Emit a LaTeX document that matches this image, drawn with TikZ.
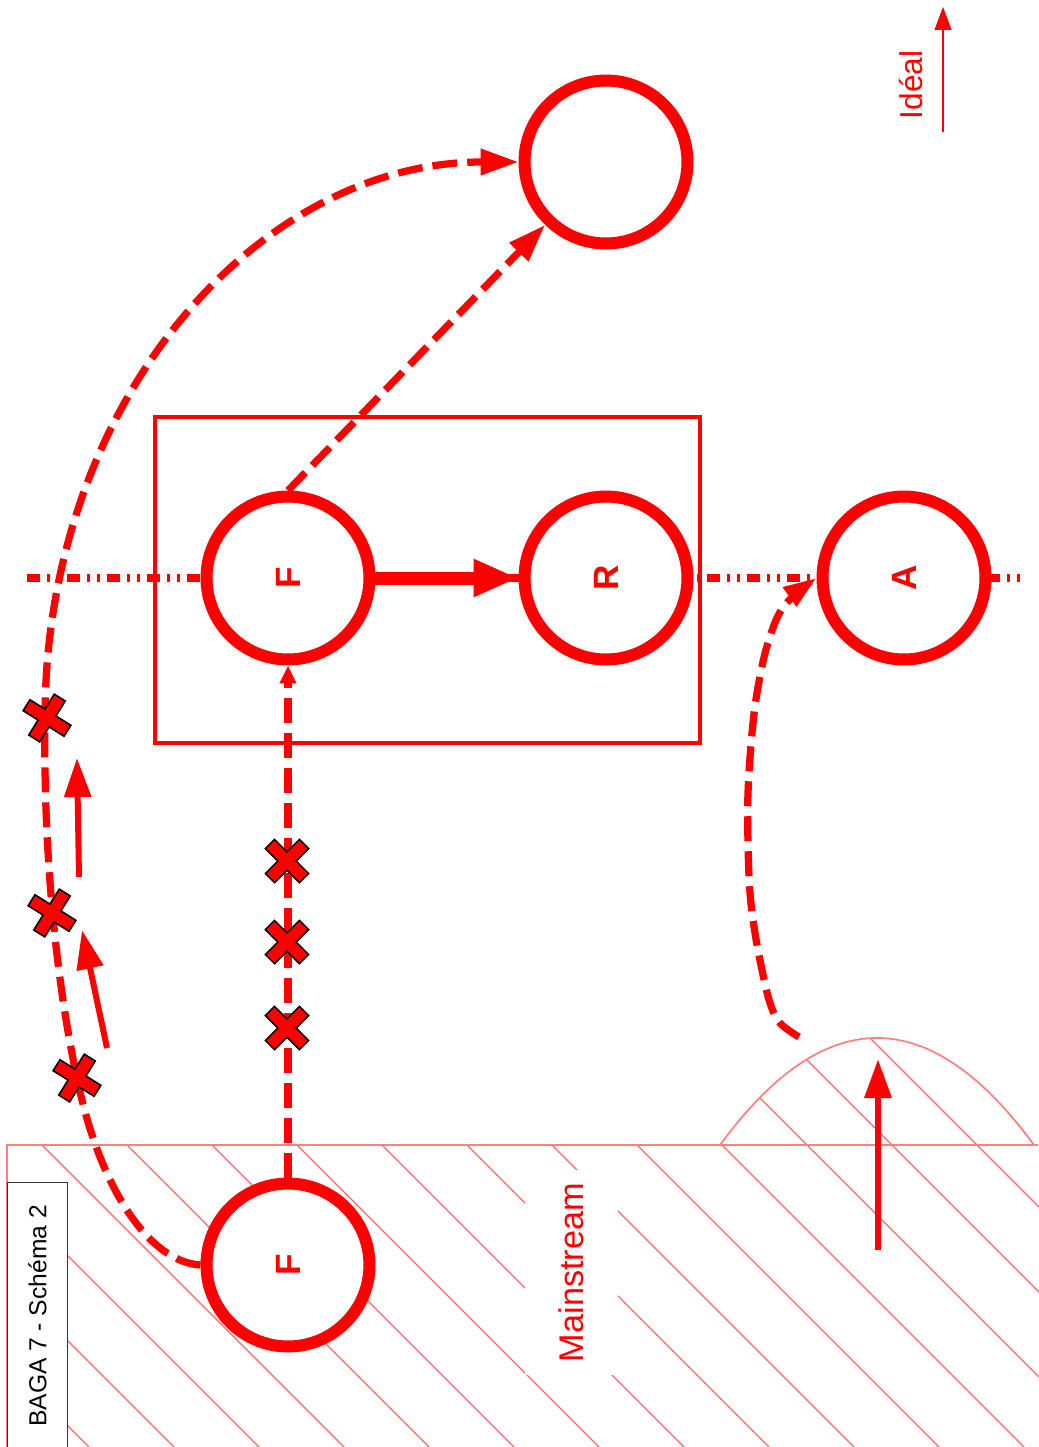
\documentclass[tikz,border=0pt]{standalone}
\usepackage{fontspec}
\usepackage{graphicx}
\setmainfont{Liberation Sans}
\usetikzlibrary{arrows.meta}
\newcommand{\redcross}[3]{%
  \begin{scope}[shift={(#1,#2)},rotate=#3]
    \draw[black,line width=0.29cm] (-17.6,-17.6) -- (17.6,17.6) (-17.6,17.6) -- (17.6,-17.6);
    \draw[red,line width=0.22cm] (-16.4,-16.4) -- (16.4,16.4) (-16.4,16.4) -- (16.4,-16.4);
  \end{scope}}
\begin{document}
\begin{tikzpicture}[x=0.02cm,y=-0.02cm,
  hatchline/.style={red!60,line width=0.022cm},
  bound/.style={red!50,line width=0.035cm},
  ring/.style={circle,draw=red,fill=white,line width=0.24cm,minimum size=3.26cm,inner sep=0pt,text=red,font=\bfseries\fontsize{20}{24}\selectfont},
  axisline/.style={red,line width=0.16cm,dash pattern=on 0.26cm off 0.14cm on 0.06cm off 0.14cm on 0.06cm off 0.14cm},
  frame/.style={red,line width=0.08cm},
  dashconn/.style={red,line width=0.145cm,dash pattern=on 0.5cm off 0.2cm},
  solidarrow/.style={red,line width=0.12cm,-{Triangle[length=0.78cm,width=0.52cm]}},
  bigarrow/.style={red,line width=0.26cm,-{Triangle[length=0.9cm,width=0.7cm]}},
  midtip/.style={-{Triangle[length=0.76cm,width=0.5cm]}},
  smalltip/.style={-{Triangle[length=0.36cm,width=0.32cm]}}
]
\useasboundingbox (0,0) rectangle (1038,1447);

% hatched mainstream region
\begin{scope}
  \clip (7,1447) -- (7,1145) -- (720,1145) .. controls (824.7,1002.3) and (929.3,1002.3) .. (1034,1145) -- (1040,1145) -- (1040,1447) -- cycle;
  \foreach \k in {-5,...,13}{
    \draw[hatchline] ({-103+85*\k},1000) -- ({397+85*\k},1500);
  }
\end{scope}
\draw[bound] (7,1447) -- (7,1145) -- (1038,1145);
\draw[bound] (720,1145) .. controls (824.7,1002.3) and (929.3,1002.3) .. (1034,1145);

% labels in the region
\node[fill=white,rotate=90,minimum width=4.1cm,minimum height=1.86cm,inner sep=0pt,text=red,font=\fontsize{19.5}{23}\selectfont] (main) at (571.5,1272.5) {Mainstream};
\node[draw=black!80,fill=white,line width=0.02cm,rotate=90,minimum width=5.36cm,minimum height=1.2cm,inner sep=0pt,text=black,font=\fontsize{14}{17}\selectfont] (baga) at (37.5,1316) {BAGA 7 - Schéma 2};

% axis line
\coordinate (axL) at (27,578);
\coordinate (axR) at (1020,578);
\draw[axisline] (axL) -- (axR);

% frame
\draw[frame] (155,417) rectangle (700,743);

% circles
\node[ring] (T) at (606,162) {};
\node[ring] (F1) at (288,578) {\rotatebox{90}{F}};
\node[ring] (R) at (606,578) {\rotatebox{90}{R}};
\node[ring] (A) at (904,578) {\rotatebox{90}{A}};
\node[ring] (F2) at (288,1265) {\rotatebox{90}{F}};

% connectors
\draw[bigarrow] (F1) -- (R);
\draw[dashconn,midtip] (F1.north) -- (T);
\draw[dashconn,smalltip] (F2) -- (F1);
\draw[dashconn,midtip] (F2.west) .. controls (150,1262) and (100,1190) .. (77,1078)
  .. controls (58,990) and (43,860) .. (45,718)
  .. controls (45,403) and (257,162) .. (T.west);
\coordinate (aS) at (799,1037);
\draw[dashconn,-{Triangle[length=0.66cm,width=0.44cm]}] plot[smooth,tension=0.6] coordinates {(aS) (780,1023) (770,1003) (762,970) (755,933) (750,893) (748,843) (748,793) (752,733) (758,687) (768,643) (784,606) (A.west)};

% crosses
\redcross{47}{718}{13}
\redcross{52}{913}{13}
\redcross{77}{1078}{13}
\redcross{287}{861}{0}
\redcross{287}{942}{0}
\redcross{287}{1028}{0}

% solid arrows
\coordinate (s1a) at (79,877); \coordinate (s1b) at (77,758);
\coordinate (s2a) at (107,1048); \coordinate (s2b) at (82,930);
\coordinate (s3a) at (878,1250); \coordinate (s3b) at (878,1059);
\draw[solidarrow] (s1a) -- (s1b);
\draw[solidarrow] (s2a) -- (s2b);
\draw[solidarrow,line width=0.13cm] (s3a) -- (s3b);

% ideal
\node[rotate=90,text=red,inner sep=0pt,font=\fontsize{18}{21}\selectfont] (ideal) at (911,85) {Idéal};
\coordinate (iA) at (943,132); \coordinate (iB) at (943,7);
\draw[red,line width=0.025cm,-{Triangle[length=0.46cm,width=0.34cm]}] (iA) -- (iB);
\end{tikzpicture}
\end{document}
